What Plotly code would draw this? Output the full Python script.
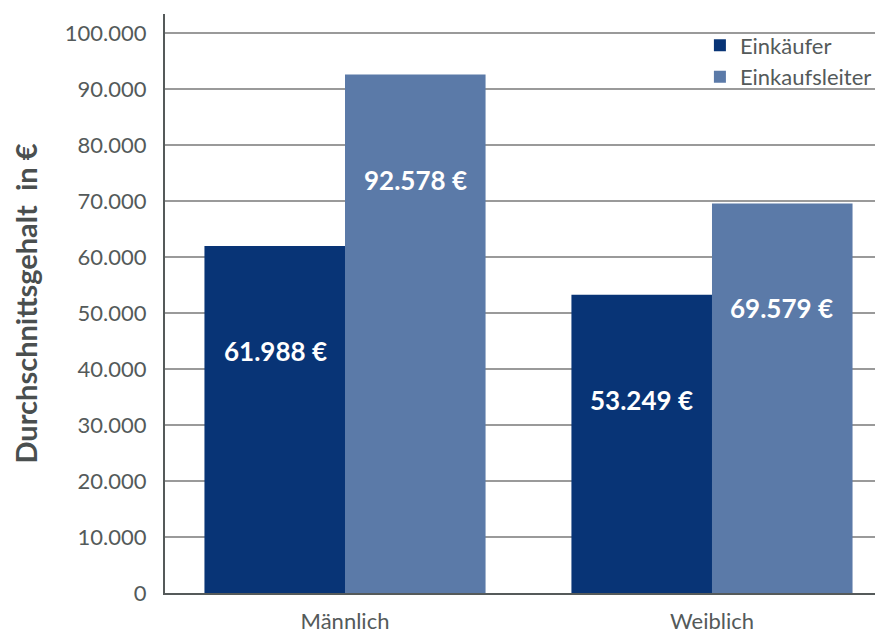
import plotly.graph_objects as go

categories = ["Männlich", "Weiblich"]
series_names = ["Einkäufer", "Einkaufsleiter"]
einkaeufer = [61988, 53249]
einkaufsleiter = [92578, 69579]
tick_vals = [0, 10000, 20000, 30000, 40000, 50000, 60000, 70000, 80000, 90000, 100000]
tick_text = ["0", "10.000", "20.000", "30.000", "40.000", "50.000", "60.000",
             "70.000", "80.000", "90.000", "100.000"]

colors = ["#083476", "#5b7aa8"]
font_family = "Lato, Open Sans, sans-serif"
text_gray = "#545a5a"

fig = go.Figure()
for name, vals, col in zip(series_names, [einkaeufer, einkaufsleiter], colors):
    fig.add_trace(go.Bar(name=name, x=categories, y=vals, marker=dict(color=col, line=dict(width=0))))

def fmt(v):
    return f"{v:,}".replace(",", ".") + " €"

for i, (name, vals) in enumerate(zip(series_names, [einkaeufer, einkaufsleiter])):
    shift = -70 if i == 0 else 70
    for c, v in zip(categories, vals):
        fig.add_annotation(x=c, y=v, xref="x", yref="y", text=fmt(v), showarrow=False,
                           xshift=shift, yshift=-105,
                           font=dict(family=font_family, size=26, color="white", weight="bold"))

fig.update_layout(
    width=875, height=625,
    margin=dict(l=157, r=0, t=6, b=40),
    barmode="group", bargap=0.234, bargroupgap=0,
    plot_bgcolor="white", paper_bgcolor="white",
    separators=",.",
    font=dict(family=font_family, color=text_gray, size=22),
    legend=dict(x=0.745, y=0.982, xanchor="left", yanchor="top",
                bgcolor="rgba(0,0,0,0)", font=dict(size=22, color=text_gray),
                itemwidth=30),
    xaxis=dict(range=[-0.4905, 1.466], showline=True, linecolor="#555a5a", linewidth=2,
               ticks="", tickfont=dict(size=22, color=text_gray), showgrid=False,
               ticklabelstandoff=8),
    yaxis=dict(range=[0, 103400], tickvals=tick_vals, ticktext=tick_text,
               showgrid=True, gridcolor="#9a9a9a", gridwidth=1.5,
               showline=True, linecolor="#555a5a", linewidth=2, ticks="",
               ticklabelstandoff=12, zeroline=False,
               tickfont=dict(size=22, color=text_gray),
               title=dict(text="Durchschnittsgehalt  in €", standoff=24,
                          font=dict(size=29, color="#4a4f4f", weight="bold"))),
)

fig.write_html("out.html")
